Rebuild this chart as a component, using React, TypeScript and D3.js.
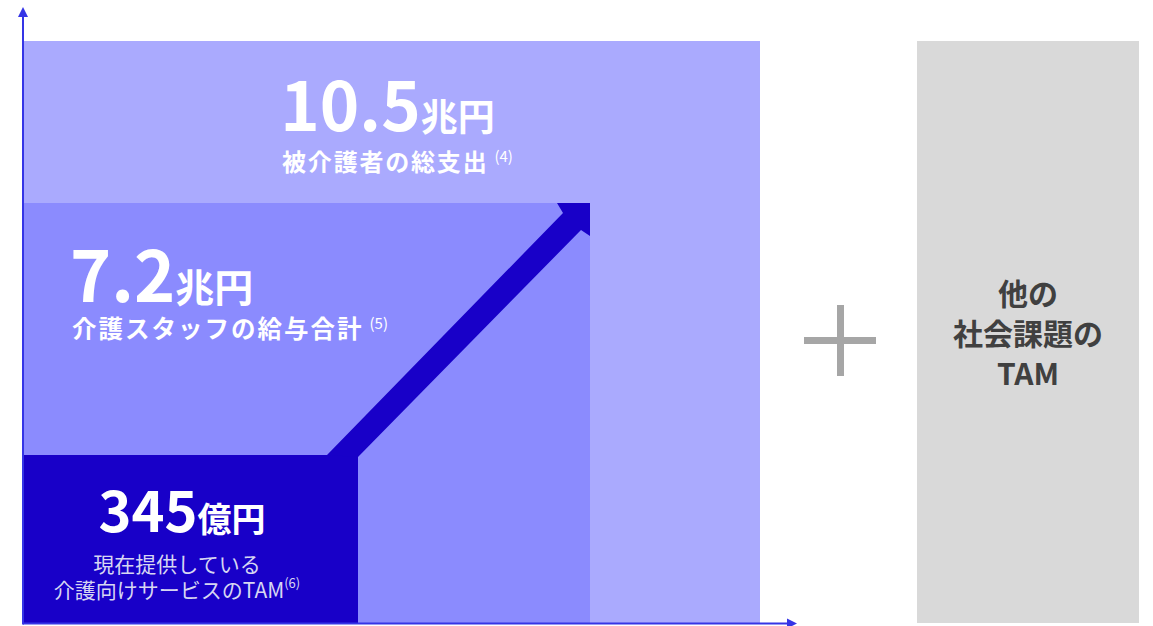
import React from "react";
import * as d3 from "d3";

// ---- data ----
const categories = [
  "被介護者の総支出",
  "介護スタッフの給与合計",
  "現在提供している介護向けサービスのTAM",
];
const valueNumbers = ["10.5", "7.2", "345"];
const valueUnits = ["兆円", "兆円", "億円"];
const noteRefs = ["(4)", "(5)", "(6)"];
const valuesOku = [105000, 72000, 345];
const innerLines = ["現在提供している", "介護向けサービスのTAM"];
const otherLines = ["他の", "社会課題の", "TAM"];

const W = 1153;
const H = 626;
const FONT = "'Noto Sans CJK JP', 'Noto Sans', sans-serif";

export default function App() {
  const x0 = 23;
  const yBase = 622;
  // schematic (non-proportional) tier extents
  const rightEdge = d3.scaleOrdinal<string, number>().domain(categories).range([760, 590, 358]);
  const topEdge = d3.scaleOrdinal<string, number>().domain(categories).range([41, 203, 455]);
  const fills = d3.scaleOrdinal<string, string>().domain(categories).range(["#AAAAFE", "#8B8BFE", "#1800C8"]);

  const sorted = categories
    .map((c, i) => ({ c, v: valuesOku[i], i }))
    .sort((a, b) => d3.descending(a.v, b.v));

  const axisColor = "#3535E6";
  const arrowColor = "#1800C8";

  const inner = categories[2];
  const mid = categories[1];
  const sx = rightEdge(inner);
  const sy = topEdge(inner);
  const tx = rightEdge(mid);
  const ty = topEdge(mid);
  const shaft = 31;
  const head = 33;
  const arrowPts: [number, number][] = [
    [sx - shaft, sy],
    [tx - head + 6, ty + 10],
    [tx - head, ty],
    [tx, ty],
    [tx, ty + head],
    [tx - 9, ty + head - 6],
    [sx, sy + 2],
  ];
  const arrowPath = d3.line()(arrowPts) + "Z";

  const gx0 = 917;
  const gx1 = 1139;
  const gTop = 41;
  const gcx = (gx0 + gx1) / 2;

  const plusCx = 840;
  const plusCy = 340;

  return (
    <svg
      width={W}
      height={H}
      viewBox={`0 0 ${W} ${H}`}
      style={{ position: "absolute", left: 0, top: 0, background: "#fff" }}
      fontFamily={FONT}
    >
      {sorted.map((d) => (
        <rect
          key={d.c}
          x={x0 + 1}
          y={topEdge(d.c)}
          width={rightEdge(d.c) - x0 - 1}
          height={yBase - topEdge(d.c) + 1}
          fill={fills(d.c)}
        />
      ))}
      <path d={arrowPath} fill={arrowColor} />

      {/* outer label */}
      <text x={(x0 + rightEdge(categories[0])) / 2 - 4} y={131} textAnchor="middle" fill="#fff" fontWeight="bold">
        <tspan fontSize={67}>{valueNumbers[0]}</tspan>
        <tspan fontSize={37}>{valueUnits[0]}</tspan>
      </text>
      <text x={(x0 + rightEdge(categories[0])) / 2 + 6} y={171} textAnchor="middle" fill="#fff" fontWeight="bold">
        <tspan fontSize={24} letterSpacing={1.8}>{categories[0]}</tspan>
        <tspan fontSize={15} fontWeight="normal" dx={6} dy={-9}>{noteRefs[0]}</tspan>
      </text>

      {/* middle label */}
      <text x={70} y={302} textAnchor="start" fill="#fff" fontWeight="bold">
        <tspan fontSize={70}>{valueNumbers[1]}</tspan>
        <tspan fontSize={39}>{valueUnits[1]}</tspan>
      </text>
      <text x={72} y={338} textAnchor="start" fill="#fff" fontWeight="bold">
        <tspan fontSize={24.5} letterSpacing={2}>{categories[1]}</tspan>
        <tspan fontSize={15} fontWeight="normal" dx={6} dy={-9}>{noteRefs[1]}</tspan>
      </text>

      {/* inner label */}
      <text x={182} y={532} textAnchor="middle" fill="#fff" fontWeight="bold">
        <tspan fontSize={56}>{valueNumbers[2]}</tspan>
        <tspan fontSize={34}>{valueUnits[2]}</tspan>
      </text>
      <text x={177} y={572} textAnchor="middle" fill="#D6D6F2" fontSize={21}>
        {innerLines[0]}
      </text>
      <text x={177} y={598} textAnchor="middle" fill="#D6D6F2" fontSize={21}>
        <tspan>{innerLines[1]}</tspan>
        <tspan fontSize={13} dy={-10}>{noteRefs[2]}</tspan>
      </text>

      {/* axes */}
      <line x1={23} y1={yBase + 1.5} x2={789} y2={yBase + 1.5} stroke={axisColor} strokeWidth={2} />
      <path d={`M797,${yBase + 1.5} L787,${yBase - 3.5} L787,${yBase + 6.5} Z`} fill={axisColor} />
      <line x1={23} y1={yBase + 2.5} x2={23} y2={15} stroke={axisColor} strokeWidth={2} />
      <path d={`M23,7 L18,17 L28,17 Z`} fill={axisColor} />

      {/* plus */}
      <rect x={plusCx - 36} y={plusCy - 3} width={72} height={7} fill="#A6A6A6" />
      <rect x={plusCx - 3} y={plusCy - 35} width={7} height={71} fill="#A6A6A6" />

      {/* other social issues box */}
      <rect x={gx0} y={gTop} width={gx1 - gx0} height={yBase - gTop + 1} fill="#D9D9D9" />
      {otherLines.map((t, i) => (
        <text
          key={t}
          x={gcx}
          y={305 + i * 40}
          textAnchor="middle"
          fill="#404040"
          fontWeight="bold"
          fontSize={30}
        >
          {t}
        </text>
      ))}
    </svg>
  );
}
